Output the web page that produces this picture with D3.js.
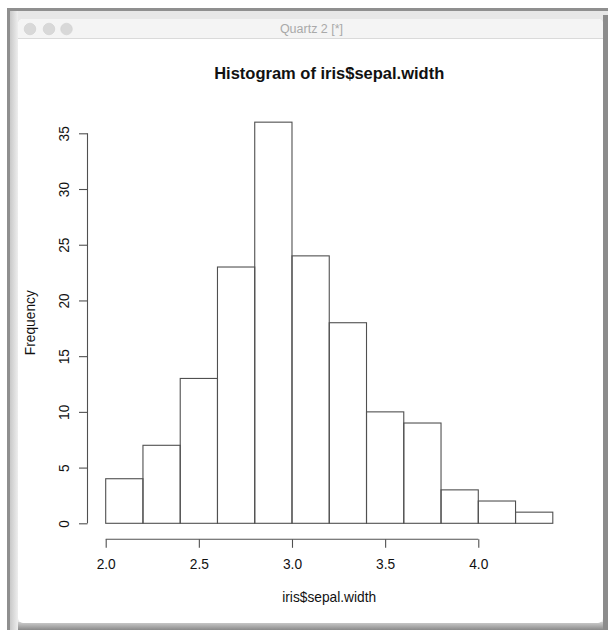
<!DOCTYPE html>
<html>
<head>
<meta charset="utf-8">
<script src="https://cdn.jsdelivr.net/npm/d3@7"></script>
<style>
  html, body { margin: 0; padding: 0; background: #ffffff; }
  svg { display: block; }
  text { font-family: "Liberation Sans", Arial, Helvetica, sans-serif; }
</style>
</head>
<body>
<svg id="chart" width="608" height="630"></svg>
<script>
// Histogram bins (left edges) and counts of sepal width
const binStarts = [2.0, 2.2, 2.4, 2.6, 2.8, 3.0, 3.2, 3.4, 3.6, 3.8, 4.0, 4.2];
const binWidth = 0.2;
const counts = [4, 7, 13, 23, 36, 24, 18, 10, 9, 3, 2, 1];
const xTicks = [2.0, 2.5, 3.0, 3.5, 4.0];
const yTicks = [0, 5, 10, 15, 20, 25, 30, 35];
const mainTitle = "Histogram of iris$sepal.width";
const xTitle = "iris$sepal.width";
const yTitle = "Frequency";
const windowTitle = "Quartz 2 [*]";

const svg = d3.select("#chart");
const W = 608, H = 630;

// ---- window chrome ----
const defs = svg.append("defs");
const leftGrad = defs.append("linearGradient").attr("id", "leftEdge").attr("x1", 0).attr("x2", 1).attr("y1", 0).attr("y2", 0);
leftGrad.append("stop").attr("offset", 0).attr("stop-color", "#c9c9c9");
leftGrad.append("stop").attr("offset", 1).attr("stop-color", "#eeeeee");
const botGrad = defs.append("linearGradient").attr("id", "botEdge").attr("x1", 0).attr("x2", 0).attr("y1", 0).attr("y2", 1);
botGrad.append("stop").attr("offset", 0).attr("stop-color", "#cfcfcf");
botGrad.append("stop").attr("offset", 1).attr("stop-color", "#8a8a8a");

svg.append("rect").attr("x", 7).attr("y", 8).attr("width", W - 7).attr("height", H - 8).attr("fill", "#8f8f8f");
svg.append("rect").attr("x", 10).attr("y", 11).attr("width", W - 10).attr("height", H - 11).attr("fill", "#e7e7e7");
svg.append("rect").attr("x", 10).attr("y", 11).attr("width", 8).attr("height", H - 11).attr("fill", "url(#leftEdge)");
svg.append("rect").attr("x", 18).attr("y", 622).attr("width", W - 18).attr("height", 8).attr("fill", "url(#botEdge)");
svg.append("rect").attr("x", 603).attr("y", 15).attr("width", 5).attr("height", H - 15).attr("fill", "#8c8c8c");

// window body
svg.append("rect").attr("x", 18).attr("y", 19).attr("width", 585).attr("height", 604)
  .attr("rx", 5).attr("fill", "#ffffff");
// title bar with rounded top corners
const tb = d3.path();
tb.moveTo(18, 38.5); tb.lineTo(18, 24); tb.arcTo(18, 19, 23, 19, 5);
tb.lineTo(598, 19); tb.arcTo(603, 19, 603, 24, 5); tb.lineTo(603, 38.5); tb.closePath();
svg.append("path").attr("d", tb.toString()).attr("fill", "#f4f4f4");
svg.append("line").attr("x1", 18).attr("x2", 603).attr("y1", 38.5).attr("y2", 38.5)
  .attr("stroke", "#dadada").attr("stroke-width", 1);
svg.selectAll("circle.btn").data([30, 49, 66.5]).enter().append("circle")
  .attr("class", "btn").attr("cx", d => d).attr("cy", 29).attr("r", 5.8)
  .attr("fill", "#d8d8d8").attr("stroke", "#cfcfcf").attr("stroke-width", 0.6);
svg.append("text").attr("x", 311.5).attr("y", 33.3).attr("text-anchor", "middle")
  .attr("font-size", "12.5px").attr("fill", "#a9a9a9").text(windowTitle);

// ---- plot ----
const x = d3.scaleLinear().domain([2.0, 4.4]).range([105.7, 552.8]);
const y = d3.scaleLinear().domain([0, 35]).range([523.3, 133.3]);
const ink = "#505050";

// bars
svg.append("g").selectAll("rect").data(binStarts).enter().append("rect")
  .attr("x", (d) => x(d))
  .attr("y", (d, i) => y(counts[i]))
  .attr("width", (d) => x(d + binWidth) - x(d))
  .attr("height", (d, i) => y(0) - y(counts[i]))
  .attr("fill", "none")
  .attr("stroke", ink)
  .attr("stroke-width", 1.1);

// x axis (line spans first to last tick)
const xAxisY = 539.3;
const xAxis = d3.axisBottom(x).tickValues(xTicks).tickSize(8.5).tickSizeOuter(0)
  .tickFormat(d3.format(".1f"));
const gx = svg.append("g").attr("transform", `translate(0,${xAxisY})`).call(xAxis);
gx.select(".domain").remove();
gx.append("line").attr("x1", x(xTicks[0])).attr("x2", x(xTicks[xTicks.length - 1]))
  .attr("y1", 0).attr("y2", 0).attr("stroke", ink).attr("stroke-width", 1.1);
gx.selectAll(".tick line").attr("stroke", ink).attr("stroke-width", 1.1);
gx.selectAll(".tick text").attr("y", 0).attr("dy", null)
  .attr("transform", "translate(0,29.7)")
  .attr("font-size", "13.75px").attr("fill", "#111")
  .attr("font-family", "'Liberation Sans', Arial, Helvetica, sans-serif");

// y axis
const yAxisX = 87.5;
const yAxis = d3.axisLeft(y).tickValues(yTicks).tickSize(8.5).tickSizeOuter(0);
const gy = svg.append("g").attr("transform", `translate(${yAxisX},0)`).call(yAxis);
gy.select(".domain").remove();
gy.append("line").attr("x1", 0).attr("x2", 0)
  .attr("y1", y(yTicks[0])).attr("y2", y(yTicks[yTicks.length - 1]))
  .attr("stroke", ink).attr("stroke-width", 1.1);
gy.selectAll(".tick line").attr("stroke", ink).attr("stroke-width", 1.1);
gy.selectAll(".tick text")
  .attr("x", 0).attr("dy", null).attr("y", 0)
  .attr("text-anchor", "middle")
  .attr("transform", "translate(-19,0) rotate(-90)")
  .attr("font-size", "13.75px").attr("fill", "#111")
  .attr("font-family", "'Liberation Sans', Arial, Helvetica, sans-serif");

// titles
svg.append("text").attr("x", 329.2).attr("y", 78.5).attr("text-anchor", "middle")
  .attr("font-size", "16.5px").attr("font-weight", "bold").attr("fill", "#111").text(mainTitle);
svg.append("text").attr("x", 329.2).attr("y", 601.5).attr("text-anchor", "middle")
  .attr("font-size", "13.75px").attr("fill", "#111").text(xTitle);
svg.append("text").attr("transform", "translate(34.5,322.7) rotate(-90)")
  .attr("text-anchor", "middle").attr("font-size", "13.75px").attr("fill", "#111").text(yTitle);
</script>
</body>
</html>
